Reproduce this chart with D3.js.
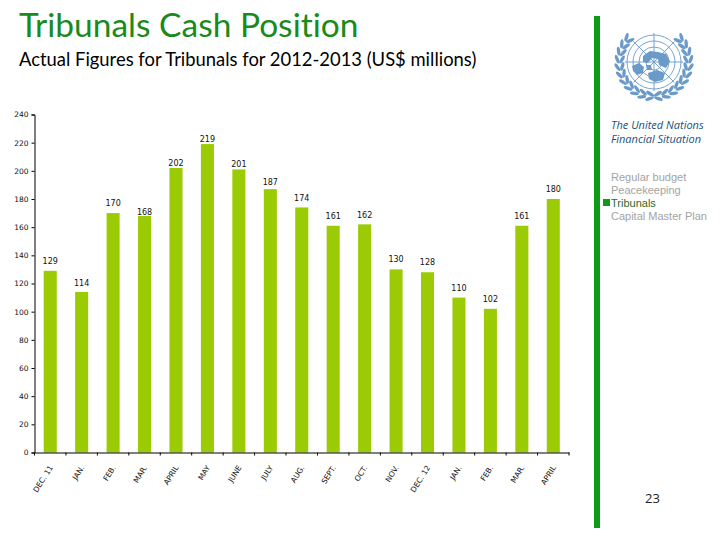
<!DOCTYPE html>
<html>
<head>
<meta charset="utf-8">
<script src="https://cdn.jsdelivr.net/npm/d3@7"></script>
<style>
  html, body { margin: 0; padding: 0; background: #fff; }
  svg { display: block; }
  text { font-variant-ligatures: none; }
  .axis path, .axis line { stroke: #000; }
  .axis text { font-family: "DejaVu Sans", sans-serif; font-size: 7.5px; fill: #111; }
</style>
</head>
<body>
<svg id="slide" width="720" height="540"></svg>
<script>
let months = ["DEC. 11", "JAN.", "FEB.", "MAR.", "APRIL", "MAY", "JUNE", "JULY", "AUG.", "SEPT.", "OCT.", "NOV.", "DEC. 12", "JAN.", "FEB.", "MAR.", "APRIL"];
let cash = [129, 114, 170, 168, 202, 219, 201, 187, 174, 161, 162, 130, 128, 110, 102, 161, 180];
let yTicks = [0, 20, 40, 60, 80, 100, 120, 140, 160, 180, 200, 220, 240];
let legendItems = ["Regular budget", "Peacekeeping", "Tribunals", "Capital Master Plan"];

// the data labels were placed by hand in the original, so each has its own lift
let labelLift = [10, 9, 10, 4, 5, 5, 5, 7, 9, 10, 9, 10, 10, 10, 10, 10, 10];

let svg = d3.select("#slide");

let x = d3.scaleBand().domain(d3.range(months.length)).range([34.5, 569])
  .paddingInner(0.585).paddingOuter(0.2925);
let y = d3.scaleLinear().domain([0, 240]).range([452.5, 114.5]);

// title
svg.append("text").attr("x", 19).attr("y", 37)
  .attr("font-family", "Lato").attr("font-size", 33.5).attr("fill", "#1a8a1a")
  .text("Tribunals Cash Position");
svg.append("text").attr("x", 19).attr("y", 66)
  .attr("font-family", "Lato").attr("font-size", 18.4).attr("fill", "#000")
  .text("Actual Figures for Tribunals for 2012-2013 (US$ millions)");

// bars
svg.selectAll("rect.bar").data(cash).enter().append("rect")
  .attr("class", "bar")
  .attr("x", (d, i) => x(i))
  .attr("y", (d) => y(d))
  .attr("width", x.bandwidth())
  .attr("height", (d) => y(0) - y(d))
  .attr("fill", "#9bcb05");

// value labels
svg.selectAll("text.val").data(cash).enter().append("text")
  .attr("class", "val")
  .attr("x", (d, i) => x(i) + x.bandwidth() / 2)
  .attr("y", (d, i) => y(d) - labelLift[i] + 3)
  .attr("text-anchor", "middle")
  .attr("font-family", "DejaVu Sans").attr("font-size", 8).attr("fill", "#111")
  .text((d) => d);

// axes
let yAxis = d3.axisLeft(y).tickValues(yTicks).tickSize(3).tickPadding(3);
svg.append("g").attr("class", "axis").attr("transform", "translate(34.5,0)").call(yAxis);

let xAxis = d3.axisBottom(x).tickSize(0).tickFormat((i) => months[i]);
let gx = svg.append("g").attr("class", "axis").attr("transform", "translate(0,452.5)").call(xAxis);
gx.selectAll("text")
  .attr("text-anchor", "end")
  .attr("dy", 0).attr("x", 0).attr("y", 0)
  .attr("transform", "translate(3,15) rotate(-58)");
// ticks fall between the bars, not under them
let tickX = d3.scaleLinear().domain([0, months.length]).range([34.5, 569]);
gx.selectAll("line.sep").data(d3.range(months.length + 1)).enter().append("line")
  .attr("class", "sep")
  .attr("x1", (i) => tickX(i))
  .attr("x2", (i) => tickX(i))
  .attr("y1", 0).attr("y2", 3);

// green side rule
svg.append("rect").attr("x", 594).attr("y", 16).attr("width", 6).attr("height", 512).attr("fill", "#0d9a16");

// UN emblem
let logoBlue = "#6a9ac9";
let logo = svg.append("g").attr("transform", "translate(654,62)");
[8, 15, 21, 27].forEach((r) => {
  logo.append("circle").attr("r", r).attr("fill", "none").attr("stroke", logoBlue).attr("stroke-width", 0.9);
});
d3.range(8).forEach((k) => {
  let a = k * Math.PI / 4;
  logo.append("line")
    .attr("x2", 29 * Math.cos(a)).attr("y2", 29 * Math.sin(a))
    .attr("stroke", logoBlue).attr("stroke-width", 0.9);
});
let continents = [
  "M-11,-6 L-4,-11 L4,-10 L12,-8 L16,-1 L12,6 L5,3 L4,-3 L-2,-4 L-6,1 L-11,0 Z",
  "M-22,4 L-15,1 L-10,5 L-11,11 L-17,13 L-21,9 Z",
  "M-6,11 L3,8 L11,11 L9,18 L1,20 L-5,17 Z",
  "M-8,3 L-3,3 L-2,8 L-7,8 Z"
];
logo.selectAll("path.land").data(continents).enter().append("path")
  .attr("class", "land").attr("d", (d) => d).attr("fill", logoBlue);
// olive branches, two rows of leaves each side
[-1, 1].forEach((side) => {
  d3.range(11).forEach((k) => {
    let deg = 48 + k * 12.5;
    let a = deg * Math.PI / 180;
    [[32, -25], [37, 25]].forEach(([r, tilt]) => {
      logo.append("ellipse").attr("rx", 1.7).attr("ry", 4.5)
        .attr("fill", logoBlue)
        .attr("transform", `translate(${side * r * Math.sin(a)},${-r * Math.cos(a)}) rotate(${side * (deg + 90 + tilt)})`);
    });
  });
});

// heading on the right
svg.append("text").attr("x", 611).attr("y", 129)
  .attr("font-family", "Open Sans").attr("font-size", 11).attr("font-style", "italic").attr("fill", "#1d4f78")
  .text("The United Nations");
svg.append("text").attr("x", 611).attr("y", 143)
  .attr("font-family", "Open Sans").attr("font-size", 11).attr("font-style", "italic").attr("fill", "#1d4f78")
  .text("Financial Situation");

// section list
svg.selectAll("text.sec").data(legendItems).enter().append("text")
  .attr("class", "sec")
  .attr("x", 611)
  .attr("y", (d, i) => 181 + i * 13)
  .attr("font-family", "Liberation Sans").attr("font-size", 11)
  .attr("fill", (d) => d === "Tribunals" ? "#2e6b2e" : "#a3a3a3")
  .text((d) => d);
svg.append("rect").attr("x", 603).attr("y", 199).attr("width", 7).attr("height", 7).attr("fill", "#0d9a16");

// page number
svg.append("text").attr("x", 645).attr("y", 503)
  .attr("font-family", "Open Sans").attr("font-size", 13).attr("fill", "#222").text("23");
</script>
</body>
</html>
